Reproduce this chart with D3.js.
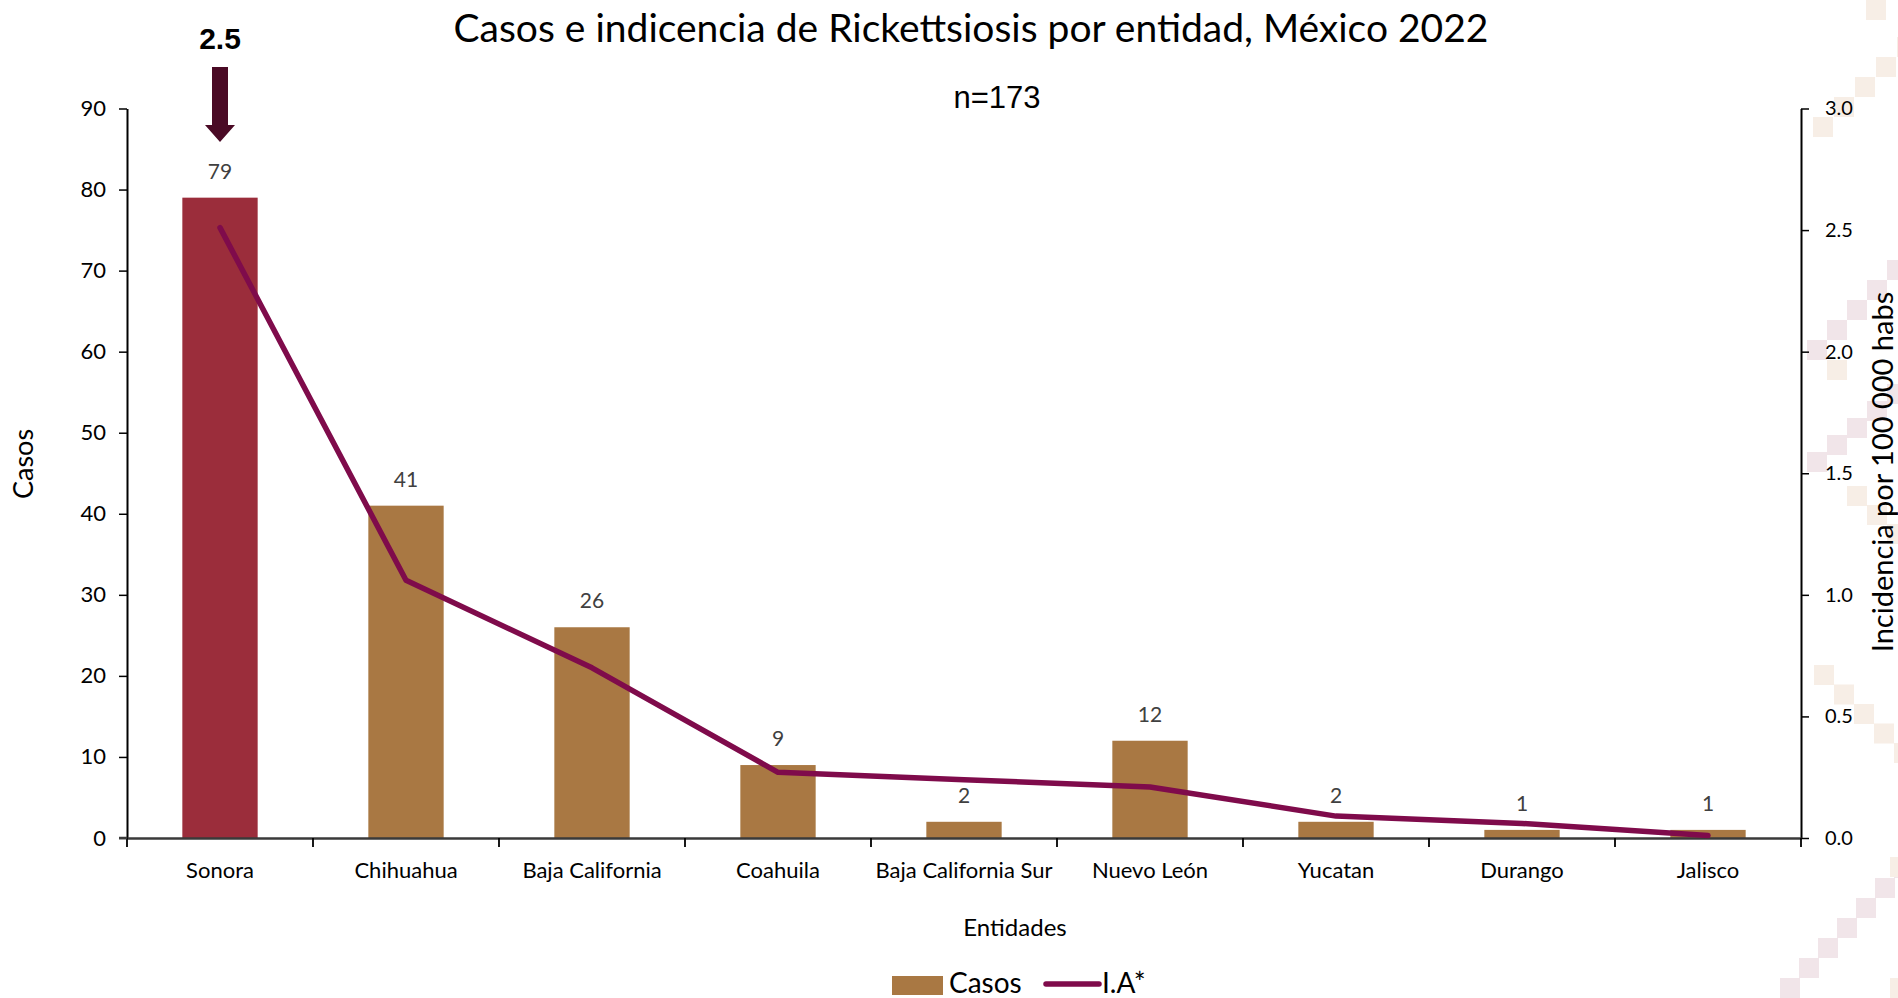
<!DOCTYPE html>
<html>
<head>
<meta charset="utf-8">
<script src="https://cdn.jsdelivr.net/npm/d3@7"></script>
<style>
  html, body { margin: 0; padding: 0; background: #ffffff; }
  svg { display: block; }
</style>
</head>
<body>
<script>
// ---- Data ----
const categories = ["Sonora", "Chihuahua", "Baja California", "Coahuila", "Baja California Sur", "Nuevo León", "Yucatan", "Durango", "Jalisco"];
const casos = [79, 41, 26, 9, 2, 12, 2, 1, 1];
const incidencia = [2.51, 1.06, 0.70, 0.27, 0.24, 0.21, 0.09, 0.06, 0.01];
const leftTicks = [0, 10, 20, 30, 40, 50, 60, 70, 80, 90];
const rightTicks = [0, 0.5, 1.0, 1.5, 2.0, 2.5, 3.0];
const highlight = "Sonora";
const highlightLabel = "2.5";
const titleText = "Casos e indicencia de Rickettsiosis por entidad, México 2022";
const subtitleText = "n=173";
const xTitle = "Entidades";
const yTitleLeft = "Casos";
const yTitleRight = "Incidencia por 100 000 habs";
const legendLabels = ["Casos", "I.A*"];

// ---- Layout ----
const W = 1898, H = 998;
const pL = 127, pR = 1801, pT = 108.5, pB = 838;
const FONT = "Lato, 'Noto Sans', sans-serif";
const barColor = "#A97843", hiColor = "#9B2D3B", lineColor = "#7F0B4B", arrowColor = "#4A0A25";

const svg = d3.select("body").append("svg").attr("width", W).attr("height", H);

// Decorative background staircases (slide template)
const beige = "#F7EEE6", mauve = "#F1E5E9";
const stairs = [
  {x: 1813, y: 117, dx: 21, dy: -20, n: 5, c: beige},
  {x: 1866, y: 0, dx: 21, dy: -20, n: 2, c: beige},
  {x: 1807, y: 340, dx: 20, dy: -20, n: 5, c: mauve},
  {x: 1827, y: 360, dx: 20, dy: 20, n: 1, c: beige},
  {x: 1807, y: 452, dx: 20, dy: -17, n: 5, c: mauve},
  {x: 1847, y: 486, dx: 20, dy: 19, n: 3, c: beige},
  {x: 1814, y: 665, dx: 20, dy: 19.5, n: 5, c: beige},
  {x: 1780, y: 978, dx: 19, dy: -20, n: 7, c: mauve},
  {x: 1890, y: 857, dx: 20, dy: 20, n: 1, c: beige},
  {x: 1890, y: 978, dx: 20, dy: 20, n: 1, c: beige}
];
const deco = svg.append("g");
stairs.forEach(s => {
  for (let i = 0; i < s.n; i++) {
    deco.append("rect").attr("x", s.x + i * s.dx).attr("y", s.y + i * s.dy)
      .attr("width", 20).attr("height", 20).attr("fill", s.c);
  }
});

// ---- Scales ----
const x = d3.scaleBand().domain(categories).range([pL, pR]).padding(0);
const yL = d3.scaleLinear().domain([0, 90]).range([pB, pT]);
const yR = d3.scaleLinear().domain([0, 3]).range([pB, pT]);
const barW = x.bandwidth() * 0.405;

// ---- Bars ----
svg.append("g").selectAll("rect").data(categories).join("rect")
  .attr("x", d => x(d) + x.bandwidth() / 2 - barW / 2)
  .attr("y", (d, i) => yL(casos[i]))
  .attr("width", barW)
  .attr("height", (d, i) => yL(0) - yL(casos[i]))
  .attr("fill", d => d === highlight ? hiColor : barColor);

// Bar labels
svg.append("g").selectAll("text").data(categories).join("text")
  .attr("x", d => x(d) + x.bandwidth() / 2)
  .attr("y", (d, i) => yL(casos[i]) - 19)
  .attr("text-anchor", "middle")
  .attr("font-family", FONT).attr("font-size", 21).attr("fill", "#404040")
  .text((d, i) => casos[i]);

// ---- Axes ----
const axL = svg.append("g").attr("transform", `translate(${pL},0)`)
  .call(d3.axisLeft(yL).tickValues(leftTicks).tickSize(8).tickSizeOuter(0).tickPadding(13));
axL.select(".domain").attr("stroke", "#000").attr("stroke-width", 2);
axL.selectAll(".tick line").attr("stroke", "#000").attr("stroke-width", 1.5);
axL.selectAll("text").attr("font-family", FONT).attr("font-size", 22).attr("fill", "#000");

const axR = svg.append("g").attr("transform", `translate(${pR},0)`)
  .call(d3.axisRight(yR).tickValues(rightTicks).tickFormat(d3.format(".1f")).tickSize(8).tickSizeOuter(0).tickPadding(16));
axR.select(".domain").attr("stroke", "#000").attr("stroke-width", 2);
axR.selectAll(".tick line").attr("stroke", "#000").attr("stroke-width", 1.5);
axR.selectAll("text").attr("font-family", FONT).attr("font-size", 20).attr("fill", "#000");

// X axis: ticks at category boundaries
const axX = svg.append("g").attr("transform", `translate(0,${pB})`)
  .call(d3.axisBottom(x).tickSize(0).tickPadding(24));
axX.select(".domain").attr("stroke", "#3a3a3a").attr("stroke-width", 2.5);
axX.selectAll("text").attr("font-family", FONT).attr("font-size", 22).attr("fill", "#000");
const boundaries = categories.map(d => x(d)).concat([x(categories[categories.length - 1]) + x.bandwidth()]);
svg.append("g").selectAll("line").data(boundaries).join("line")
  .attr("x1", d => d).attr("x2", d => d)
  .attr("y1", pB).attr("y2", pB + 9)
  .attr("stroke", "#000").attr("stroke-width", 1.8);
svg.append("line").attr("x1", pL - 8).attr("x2", pL).attr("y1", pB).attr("y2", pB)
  .attr("stroke", "#3a3a3a").attr("stroke-width", 2.5);

// ---- Line ----
const lineGen = d3.line()
  .x((d, i) => x(categories[i]) + x.bandwidth() / 2)
  .y(d => yR(d));
svg.append("path").datum(incidencia)
  .attr("d", lineGen)
  .attr("fill", "none").attr("stroke", lineColor).attr("stroke-width", 5.5)
  .attr("stroke-linejoin", "round").attr("stroke-linecap", "round");

// ---- Arrow annotation ----
const ax = x(highlight) + x.bandwidth() / 2;
const arrow = d3.path();
arrow.moveTo(ax - 8, 67); arrow.lineTo(ax + 8, 67); arrow.lineTo(ax + 8, 125);
arrow.lineTo(ax + 15, 125); arrow.lineTo(ax, 142); arrow.lineTo(ax - 15, 125);
arrow.lineTo(ax - 8, 125); arrow.closePath();
svg.append("path").attr("d", arrow.toString()).attr("fill", arrowColor);
svg.append("text").attr("x", ax).attr("y", 49).attr("text-anchor", "middle")
  .attr("font-family", "'Liberation Sans', Arial, sans-serif").attr("font-weight", "bold")
  .attr("font-size", 30).attr("fill", "#000").text(highlightLabel);

// ---- Titles ----
svg.append("text").attr("x", 971).attr("y", 42).attr("text-anchor", "middle")
  .attr("font-family", FONT).attr("font-size", 39).attr("fill", "#000").text(titleText);
svg.append("text").attr("x", 997).attr("y", 108).attr("text-anchor", "middle")
  .attr("font-family", "'Liberation Sans', Arial, sans-serif").attr("font-size", 31).attr("fill", "#000").text(subtitleText);
svg.append("text").attr("x", 1015).attr("y", 936).attr("text-anchor", "middle")
  .attr("font-family", FONT).attr("font-size", 24).attr("fill", "#000").text(xTitle);
svg.append("text").attr("transform", "translate(33,464) rotate(-90)").attr("text-anchor", "middle")
  .attr("font-family", FONT).attr("font-size", 27).attr("fill", "#000").text(yTitleLeft);
svg.append("text").attr("transform", "translate(1893,472) rotate(-90)").attr("text-anchor", "middle")
  .attr("font-family", FONT).attr("font-size", 29).attr("fill", "#000").text(yTitleRight);

// ---- Legend ----
const lg = svg.append("g");
lg.append("rect").attr("x", 892).attr("y", 976).attr("width", 51).attr("height", 19).attr("fill", barColor);
lg.append("text").attr("x", 949).attr("y", 993).attr("font-family", FONT).attr("font-size", 28).attr("fill", "#000").text(legendLabels[0]);
lg.append("line").attr("x1", 1046).attr("x2", 1099).attr("y1", 984).attr("y2", 984)
  .attr("stroke", lineColor).attr("stroke-width", 5.5).attr("stroke-linecap", "round");
lg.append("text").attr("x", 1102).attr("y", 993).attr("font-family", FONT).attr("font-size", 28).attr("fill", "#000").text(legendLabels[1]);
</script>
</body>
</html>
